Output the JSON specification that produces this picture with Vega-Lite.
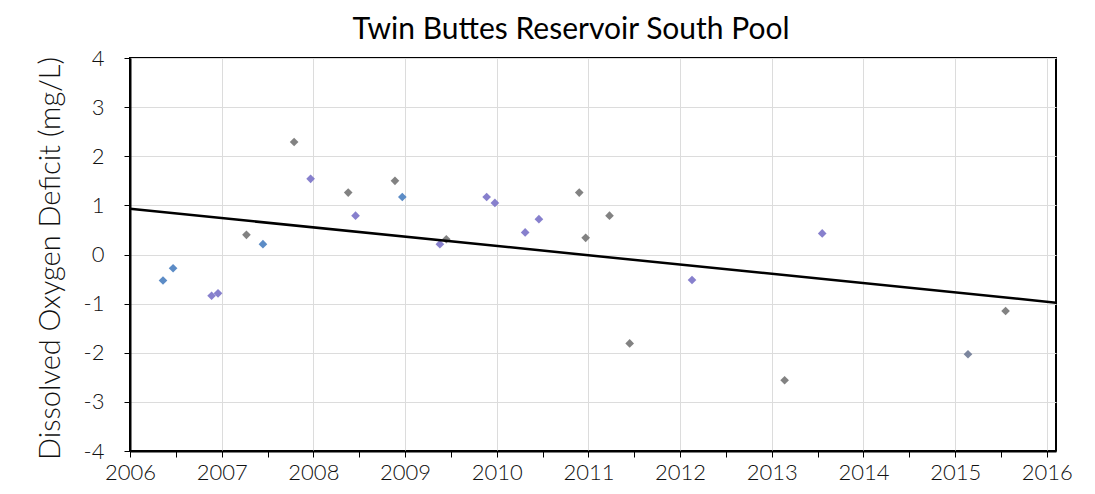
{
  "$schema": "https://vega.github.io/schema/vega-lite/v6.json",
  "width": 926,
  "height": 393,
  "autosize": "none",
  "padding": {"left": 130, "top": 58, "right": 39, "bottom": 43},
  "background": "white",
  "title": {"text": "Twin Buttes Reservoir South Pool", "font": "Lato", "fontSize": 30, "fontWeight": "normal", "color": "black", "anchor": "middle", "offset": 2, "dx": -22},
  "config": {
    "view": {"stroke": "black", "strokeWidth": 2},
    "axis": {"labelFont": "Lato", "titleFont": "Lato", "labelColor": "#111", "titleColor": "#111", "domainColor": "black", "domainWidth": 2, "tickColor": "black", "gridColor": "#dcdcdc"}
  },
  "datasets": {
    "obs": [
      {"year": 2006.36, "deficit": -0.53, "group": "A"},
      {"year": 2006.47, "deficit": -0.28, "group": "A"},
      {"year": 2006.89, "deficit": -0.84, "group": "B"},
      {"year": 2006.96, "deficit": -0.79, "group": "B"},
      {"year": 2007.27, "deficit": 0.40, "group": "C"},
      {"year": 2007.45, "deficit": 0.21, "group": "A"},
      {"year": 2007.79, "deficit": 2.29, "group": "C"},
      {"year": 2007.97, "deficit": 1.54, "group": "B"},
      {"year": 2008.38, "deficit": 1.26, "group": "C"},
      {"year": 2008.46, "deficit": 0.79, "group": "B"},
      {"year": 2008.89, "deficit": 1.50, "group": "C"},
      {"year": 2008.97, "deficit": 1.17, "group": "A"},
      {"year": 2009.38, "deficit": 0.21, "group": "B"},
      {"year": 2009.45, "deficit": 0.31, "group": "C"},
      {"year": 2009.89, "deficit": 1.17, "group": "B"},
      {"year": 2009.98, "deficit": 1.05, "group": "B"},
      {"year": 2010.31, "deficit": 0.45, "group": "B"},
      {"year": 2010.46, "deficit": 0.72, "group": "B"},
      {"year": 2010.90, "deficit": 1.26, "group": "C"},
      {"year": 2010.97, "deficit": 0.34, "group": "C"},
      {"year": 2011.23, "deficit": 0.79, "group": "C"},
      {"year": 2011.45, "deficit": -1.81, "group": "C"},
      {"year": 2012.13, "deficit": -0.52, "group": "B"},
      {"year": 2013.14, "deficit": -2.56, "group": "C"},
      {"year": 2013.55, "deficit": 0.43, "group": "B"},
      {"year": 2015.14, "deficit": -2.03, "group": "D"},
      {"year": 2015.55, "deficit": -1.15, "group": "C"}
    ],
    "trend": [
      {"year": 2006.0, "deficit": 0.93},
      {"year": 2016.1, "deficit": -0.98}
    ]
  },
  "layer": [
    {
      "data": {"name": "obs"},
      "mark": {"type": "point", "shape": "diamond", "filled": true, "size": 75, "opacity": 0.9},
      "encoding": {
        "x": {
          "field": "year", "type": "quantitative",
          "scale": {"domain": [2006, 2016.1], "nice": false, "zero": false},
          "axis": {
            "title": null,
            "values": [2006, 2006.5, 2007, 2007.5, 2008, 2008.5, 2009, 2009.5, 2010, 2010.5, 2011, 2011.5, 2012, 2012.5, 2013, 2013.5, 2014, 2014.5, 2015, 2015.5, 2016],
            "labelExpr": "datum.value % 1 == 0 ? format(datum.value, 'd') : ''",
            "labelFontSize": 22,
            "labelFontWeight": 300,
            "labelPadding": 5,
            "tickSize": 6,
            "gridOpacity": {"condition": {"test": "datum.value % 1 != 0", "value": 0}, "value": 1},
            "labelFlush": false
          }
        },
        "y": {
          "field": "deficit", "type": "quantitative",
          "scale": {"domain": [-4, 4], "nice": false},
          "axis": {
            "title": "Dissolved Oxygen Deficit (mg/L)",
            "titleFontSize": 29,
            "titleFontWeight": 300,
            "titlePadding": 18,
            "titleY": 200,
            "values": [-4, -3, -2, -1, 0, 1, 2, 3, 4],
            "labelExpr": "replace(format(datum.value, 'd'), '\u2212', '-')",
            "labelFontSize": 22,
            "labelFontWeight": 300,
            "labelPadding": 20,
            "tickSize": 6
          }
        },
        "color": {
          "field": "group", "type": "nominal",
          "scale": {"domain": ["A", "B", "C", "D"], "range": ["#4a80c0", "#7a72c8", "#747474", "#6f7a95"]},
          "legend": null
        }
      }
    },
    {
      "data": {"name": "trend"},
      "mark": {"type": "line", "color": "black", "strokeWidth": 2.5},
      "encoding": {
        "x": {"field": "year", "type": "quantitative"},
        "y": {"field": "deficit", "type": "quantitative"}
      }
    }
  ]
}
